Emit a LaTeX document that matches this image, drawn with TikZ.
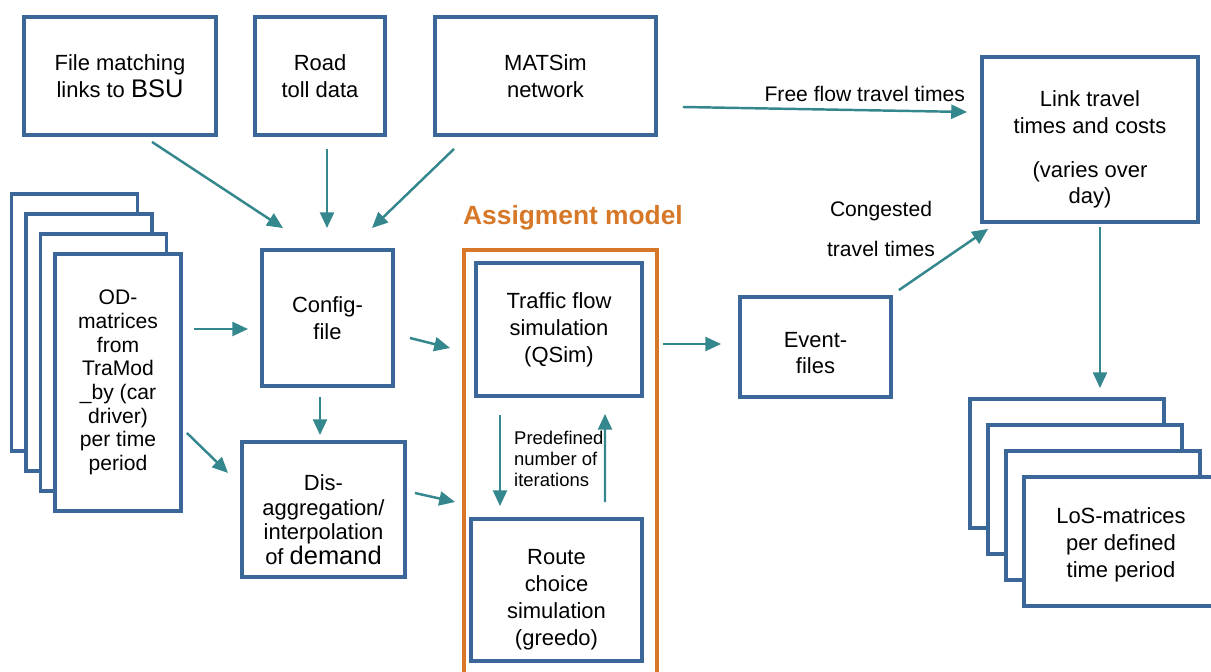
\documentclass[tikz,border=0pt]{standalone}
\usepackage{fontspec}
\setmainfont{Liberation Sans}
\usetikzlibrary{arrows.meta}
\usetikzlibrary{positioning}
\usetikzlibrary{calc}
\definecolor{boxblue}{RGB}{59,103,152}
\definecolor{flowteal}{RGB}{52,135,140}
\definecolor{modelorange}{RGB}{214,120,40}
\newcommand{\boxfont}{\fontsize{12.5}{15.3}\selectfont}
\newcommand{\bigword}[1]{{\fontsize{14.5}{15.3}\selectfont #1}}
\newcommand{\bnode}[6][]{\node(#2)[item,minimum width=#4*0.02cm,minimum height=#5*0.02cm,
    label={[boxtext,#1]center:#6}] at (#3) {}}

\begin{document}
\begin{tikzpicture}[
        x=0.02cm, y=-0.02cm,
        every node/.style={font=\boxfont},
        item/.style={rectangle,draw=boxblue,line width=2.2pt,fill=white,inner sep=0pt},
        boxtext/.style={align=center,inner sep=0pt},
        textdown/.style={yshift=-#1*0.02cm},
        model/.style={rectangle,draw=modelorange,line width=2.2pt},
        conn/.style={draw=flowteal,line width=1.4pt,
                     -{Triangle[length=9pt,width=8pt]}},
        flowlabel/.style={align=center,font=\fontsize{12}{14}\selectfont}
      ]
      \clip (0,0) rectangle (1211,672);
      % input files
      \bnode{file}{120,76}{192}{118}{File matching\\links to \bigword{BSU}};
      \bnode{toll}{320,76}{130}{118}{Road\\toll data};
      \bnode{matsim}{545.5,76}{221}{118}{MATSim\\network};
      % OD stack
      \foreach \k in {3,2,1}
        \node(od\k)[item,minimum width=126*0.02cm,minimum height=257*0.02cm]
          at ($(118,382.5)+(-14.5*\k,-20*\k)$) {};
      \bnode[font=\fontsize{12}{13.5}\selectfont]{od}{118,382.5}{126}{257}{OD-\\matrices\\from\\TraMod\\\_by (car\\driver)\\per time\\period};
      \bnode{config}{327.5,318}{131}{136}{Config-\\file};
      \bnode[textdown=10,font=\fontsize{12.5}{14}\selectfont]{disagg}{323.5,509.5}{163}{135}{Dis-\\aggregation/\\interpolation\\of \bigword{demand}};
      % assignment model
      \node(assign)[model,minimum width=193*0.02cm,minimum height=450*0.02cm] at (560.5,475) {};
      \node(title)[text=modelorange,font=\fontsize{15}{18}\selectfont\bfseries] at (573,218) {Assigment model};
      \bnode{traffic}{559,329.5}{166}{133}{Traffic flow\\simulation\\(QSim)};
      \bnode[textdown=10]{route}{556.5,590}{171}{142}{Route\\choice\\simulation\\(greedo)};
      \node(iter)[anchor=west,align=left,font=\fontsize{10.5}{12}\selectfont] at (508,459) {Predefined\\number of\\iterations};
      \bnode[textdown=6]{event}{815.5,347}{151}{100}{Event-\\files};
      \bnode[textdown=10]{link}{1090,139.5}{216}{165}{Link travel\\times and costs\\[9.6pt](varies over\\day)};
      % LoS stack
      \foreach \k in {3,2,1}
        \node(los\k)[item,minimum width=194*0.02cm,minimum height=129*0.02cm]
          at ($(1121,541.5)+(-18*\k,-26*\k)$) {};
      \bnode[textdown=3]{los}{1121,541.5}{194}{129}{LoS-matrices\\per defined\\time period};
      \node(congested)[flowlabel] at (881,229) {Congested\\[9pt]travel times};

      \draw[conn] ($(file.south)+(32,5)$) -- ($(config.north)+(-44.5,-20)$);
      \draw[conn] ($(toll.south)+(7,12)$) -- ($(config.north)+(-0.5,-20)$);
      \draw[conn] ($(matsim.south)+(-91.5,12)$) -- ($(config.north)+(44.5,-20)$);
      \draw[conn] ($(od.east)+(11,-53.5)$) -- ($(config.west)+(-12,11)$);
      \draw[conn] ($(od.east)+(4,50.5)$) -- ($(disagg.west)+(-12,-36.5)$);
      \draw[conn] ($(config.south)+(-7.5,9)$) -- ($(disagg.north)+(-3.5,-5)$);
      \draw[conn] ($(config.east)+(15,20)$) -- ($(assign.west)+(-12,-127)$);
      \draw[conn] ($(disagg.east)+(8,-16.5)$) -- ($(assign.west)+(-7,27)$);
      \draw[conn] ($(traffic.south)+(-59,17)$) -- ($(route.north)+(-56.5,-11)$);
      \draw[conn] ($(route.north)+(48.5,-15)$) -- ($(traffic.south)+(46,16)$);
      \draw[conn] ($(assign.east)+(4,-131)$) -- ($(event.west)+(-17,-3)$);
      \draw[conn] ($(matsim.east)+(25,31)$) -- ($(link.west)+(-13,-27.5)$)
        node[flowlabel,pos=0.64,above=1pt] {Free flow travel times};
      \draw[conn] ($(event.north east)+(6,-5)$) -- ($(link.south west)+(8,5)$);
      \draw[conn] ($(link.south)+(10,3)$) -- ($(los3.north)+(33,-9)$);
    \end{tikzpicture}
\end{document}
